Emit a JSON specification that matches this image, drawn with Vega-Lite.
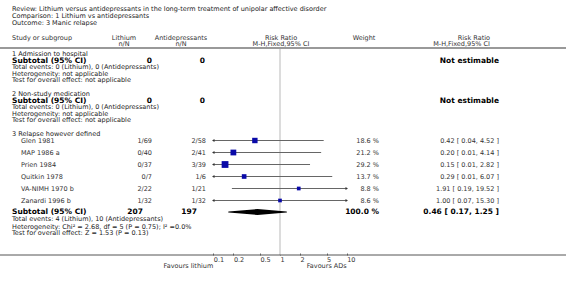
{
  "$schema": "https://vega.github.io/schema/vega-lite/v6.json",
  "width": 566,
  "height": 285,
  "padding": 0,
  "autosize": {"type": "none"},
  "background": "white",
  "config": {
    "view": {"stroke": null},
    "text": {"font": "DejaVu Sans", "fontSize": 6.5, "baseline": "middle", "color": "#222"}
  },
  "datasets": {
    "studies": [
      {"study": "Glen 1981", "lit": "1/69", "ad": "2/58", "rr": 0.42, "lo": 0.04, "hi": 4.52, "weight": 18.6, "wt": "18.6 %", "ci": "0.42 [ 0.04, 4.52 ]", "line": 28.1},
      {"study": "MAP 1986 a", "lit": "0/40", "ad": "2/41", "rr": 0.20, "lo": 0.01, "hi": 4.14, "weight": 21.2, "wt": "21.2 %", "ci": "0.20 [ 0.01, 4.14 ]", "line": 30.5},
      {"study": "Prien 1984", "lit": "0/37", "ad": "3/39", "rr": 0.15, "lo": 0.01, "hi": 2.82, "weight": 29.2, "wt": "29.2 %", "ci": "0.15 [ 0.01, 2.82 ]", "line": 32.9},
      {"study": "Quitkin 1978", "lit": "0/7", "ad": "1/6", "rr": 0.29, "lo": 0.01, "hi": 6.07, "weight": 13.7, "wt": "13.7 %", "ci": "0.29 [ 0.01, 6.07 ]", "line": 35.3},
      {"study": "VA-NIMH 1970 b", "lit": "2/22", "ad": "1/21", "rr": 1.91, "lo": 0.19, "hi": 19.52, "weight": 8.8, "wt": "8.8 %", "ci": "1.91 [ 0.19, 19.52 ]", "line": 37.7},
      {"study": "Zanardi 1996 b", "lit": "1/32", "ad": "1/32", "rr": 1.00, "lo": 0.07, "hi": 15.30, "weight": 8.6, "wt": "8.6 %", "ci": "1.00 [ 0.07, 15.30 ]", "line": 40.1}
    ],
    "subtotals": [
      {"label": "Subtotal (95% CI)", "lit": "0", "ad": "0", "wt": "", "ci": "Not estimable", "est": "no", "line": 12.1},
      {"label": "Subtotal (95% CI)", "lit": "0", "ad": "0", "wt": "", "ci": "Not estimable", "est": "no", "line": 20.2},
      {"label": "Subtotal (95% CI)", "lit": "207", "ad": "197", "wt": "100.0 %", "ci": "0.46 [ 0.17, 1.25 ]", "est": "yes", "rr": 0.46, "lo": 0.17, "hi": 1.25, "line": 42.4}
    ],
    "notes": [
      {"text": "Review:  Lithium versus antidepressants in the long-term treatment of unipolar affective disorder", "line": 1.8},
      {"text": "Comparison:  1 Lithium vs antidepressants", "line": 3.2},
      {"text": "Outcome:  3 Manic relapse", "line": 4.6},
      {"text": "1 Admission to hospital", "line": 10.8},
      {"text": "Total events: 0 (Lithium), 0 (Antidepressants)", "line": 13.4},
      {"text": "Heterogeneity: not applicable", "line": 14.7},
      {"text": "Test for overall effect: not applicable", "line": 16.0},
      {"text": "2 Non-study medication", "line": 18.8},
      {"text": "Total events: 0 (Lithium), 0 (Antidepressants)", "line": 21.4},
      {"text": "Heterogeneity: not applicable", "line": 22.7},
      {"text": "Test for overall effect: not applicable", "line": 24.0},
      {"text": "3 Relapse however defined", "line": 26.8},
      {"text": "Total events: 4 (Lithium), 10 (Antidepressants)", "line": 43.8},
      {"text": "Heterogeneity: Chi² = 2.68, df = 5 (P = 0.75); I² =0.0%", "line": 45.3},
      {"text": "Test for overall effect: Z = 1.53 (P = 0.13)", "line": 46.6}
    ],
    "headers": [
      {"text": "Study or subgroup", "col": "study", "line": 7.6},
      {"text": "Lithium", "col": "lit", "line": 7.6},
      {"text": "n/N", "col": "lit", "line": 8.8},
      {"text": "Antidepressants", "col": "ad", "line": 7.6},
      {"text": "n/N", "col": "ad", "line": 8.8},
      {"text": "Risk Ratio", "col": "rr", "line": 7.6},
      {"text": "M-H,Fixed,95% CI", "col": "rr", "line": 8.8},
      {"text": "Weight", "col": "wt", "line": 7.6},
      {"text": "Risk Ratio", "col": "ci", "line": 7.6},
      {"text": "M-H,Fixed,95% CI", "col": "ci", "line": 8.8}
    ],
    "favours": [
      {"text": "Favours lithium", "at": 0.1, "line": 53.1},
      {"text": "Favours ADs", "at": 10, "line": 53.1}
    ],
    "frame": [
      {"what": "header", "line": 9.6, "bottom": 51}
    ]
  },
  "layer": [
    {
      "data": {"name": "frame"},
      "mark": {"type": "rule", "color": "#dcdcdc", "strokeWidth": 2},
      "encoding": {
        "x": {"datum": 1, "type": "quantitative",
          "scale": {"type": "log", "domain": [0.1, 10], "range": [213.3, 346.7], "clamp": true, "nice": false},
          "axis": {"values": [0.1, 0.2, 0.5, 1, 2, 5, 10], "format": "~g", "title": null, "domain": false, "grid": false,
            "offset": -30, "ticks": true, "tickSize": -2, "tickColor": "#666", "labelFontSize": 6.5, "labelFont": "DejaVu Sans",
            "labelColor": "#333", "labelPadding": 3, "labelAlign": "left", "labelFlush": false, "labelOverlap": false, "orient": "bottom"}},
        "y": {"field": "line", "type": "quantitative", "scale": {"domain": [0, 57], "reverse": true, "zero": false, "nice": false}, "axis": null},
        "y2": {"field": "bottom"}
      }
    },
    {
      "data": {"name": "frame"},
      "mark": {"type": "rule", "color": "#999", "strokeWidth": 2},
      "encoding": {
        "y": {"field": "line", "type": "quantitative"}
      }
    },
    {
      "data": {"name": "frame"},
      "mark": {"type": "rule", "color": "#555", "strokeWidth": 1},
      "encoding": {
        "y": {"field": "bottom", "type": "quantitative"}
      }
    },
    {
      "data": {"name": "studies"},
      "mark": {"type": "rule", "color": "#666", "strokeWidth": 1},
      "encoding": {
        "x": {"field": "lo", "type": "quantitative"},
        "x2": {"field": "hi"},
        "y": {"field": "line", "type": "quantitative"}
      }
    },
    {
      "data": {"name": "studies"},
      "transform": [{"filter": "datum.lo < 0.1"}],
      "mark": {"type": "point", "shape": "triangle-left", "filled": true, "color": "#333", "size": 8, "opacity": 1},
      "encoding": {
        "x": {"field": "lo", "type": "quantitative"},
        "y": {"field": "line", "type": "quantitative"}
      }
    },
    {
      "data": {"name": "studies"},
      "transform": [{"filter": "datum.hi > 10"}],
      "mark": {"type": "point", "shape": "triangle-right", "filled": true, "color": "#333", "size": 8, "opacity": 1},
      "encoding": {
        "x": {"field": "hi", "type": "quantitative"},
        "y": {"field": "line", "type": "quantitative"}
      }
    },
    {
      "data": {"name": "studies"},
      "mark": {"type": "point", "shape": "square", "filled": true, "color": "#0a0aa8", "opacity": 1},
      "encoding": {
        "x": {"field": "rr", "type": "quantitative"},
        "y": {"field": "line", "type": "quantitative"},
        "size": {"field": "weight", "type": "quantitative", "scale": {"domain": [0, 29.2], "range": [0, 46]}, "legend": null}
      }
    },
    {
      "data": {"name": "subtotals"},
      "transform": [{"filter": "datum.est === 'yes'"}, {"fold": ["lo", "rr", "hi"], "as": ["key", "value"]}],
      "mark": {"type": "trail", "color": "#000"},
      "encoding": {
        "x": {"field": "value", "type": "quantitative"},
        "y": {"field": "line", "type": "quantitative"},
        "size": {"condition": {"test": "datum.key === 'rr'", "value": 6}, "value": 0}
      }
    },
    {
      "data": {"name": "notes"},
      "mark": {"type": "text", "align": "left"},
      "encoding": {"x": {"value": 12}, "y": {"field": "line", "type": "quantitative"}, "text": {"field": "text"}}
    },
    {
      "data": {"name": "headers"},
      "transform": [{"filter": "datum.col === 'study'"}],
      "mark": {"type": "text", "align": "left", "color": "#333"},
      "encoding": {"x": {"value": 12}, "y": {"field": "line", "type": "quantitative"}, "text": {"field": "text"}}
    },
    {
      "data": {"name": "headers"},
      "transform": [{"filter": "datum.col === 'lit'"}],
      "mark": {"type": "text", "align": "center", "color": "#333"},
      "encoding": {"x": {"value": 124}, "y": {"field": "line", "type": "quantitative"}, "text": {"field": "text"}}
    },
    {
      "data": {"name": "headers"},
      "transform": [{"filter": "datum.col === 'ad'"}],
      "mark": {"type": "text", "align": "center", "color": "#333"},
      "encoding": {"x": {"value": 181}, "y": {"field": "line", "type": "quantitative"}, "text": {"field": "text"}}
    },
    {
      "data": {"name": "headers"},
      "transform": [{"filter": "datum.col === 'rr'"}],
      "mark": {"type": "text", "align": "center", "color": "#333"},
      "encoding": {"x": {"value": 281}, "y": {"field": "line", "type": "quantitative"}, "text": {"field": "text"}}
    },
    {
      "data": {"name": "headers"},
      "transform": [{"filter": "datum.col === 'wt'"}],
      "mark": {"type": "text", "align": "center", "color": "#333"},
      "encoding": {"x": {"value": 364}, "y": {"field": "line", "type": "quantitative"}, "text": {"field": "text"}}
    },
    {
      "data": {"name": "headers"},
      "transform": [{"filter": "datum.col === 'ci'"}],
      "mark": {"type": "text", "align": "right", "color": "#333"},
      "encoding": {"x": {"value": 490}, "y": {"field": "line", "type": "quantitative"}, "text": {"field": "text"}}
    },
    {
      "data": {"name": "studies"},
      "mark": {"type": "text", "align": "left", "color": "#333"},
      "encoding": {"x": {"value": 21}, "y": {"field": "line", "type": "quantitative"}, "text": {"field": "study"}}
    },
    {
      "data": {"name": "studies"},
      "mark": {"type": "text", "align": "right", "color": "#333"},
      "encoding": {"x": {"value": 152}, "y": {"field": "line", "type": "quantitative"}, "text": {"field": "lit"}}
    },
    {
      "data": {"name": "studies"},
      "mark": {"type": "text", "align": "right", "color": "#333"},
      "encoding": {"x": {"value": 206}, "y": {"field": "line", "type": "quantitative"}, "text": {"field": "ad"}}
    },
    {
      "data": {"name": "studies"},
      "mark": {"type": "text", "align": "right", "color": "#333"},
      "encoding": {"x": {"value": 379}, "y": {"field": "line", "type": "quantitative"}, "text": {"field": "wt"}}
    },
    {
      "data": {"name": "studies"},
      "mark": {"type": "text", "align": "right", "color": "#333"},
      "encoding": {"x": {"value": 499}, "y": {"field": "line", "type": "quantitative"}, "text": {"field": "ci"}}
    },
    {
      "data": {"name": "subtotals"},
      "mark": {"type": "text", "align": "left", "fontWeight": "bold", "fontSize": 7.5, "color": "#000"},
      "encoding": {"x": {"value": 12}, "y": {"field": "line", "type": "quantitative"}, "text": {"field": "label"}}
    },
    {
      "data": {"name": "subtotals"},
      "transform": [{"filter": "datum.est === 'no'"}],
      "mark": {"type": "text", "align": "right", "fontWeight": "bold", "fontSize": 7.5, "color": "#000"},
      "encoding": {"x": {"value": 152}, "y": {"field": "line", "type": "quantitative"}, "text": {"field": "lit"}}
    },
    {
      "data": {"name": "subtotals"},
      "transform": [{"filter": "datum.est === 'no'"}],
      "mark": {"type": "text", "align": "right", "fontWeight": "bold", "fontSize": 7.5, "color": "#000"},
      "encoding": {"x": {"value": 205}, "y": {"field": "line", "type": "quantitative"}, "text": {"field": "ad"}}
    },
    {
      "data": {"name": "subtotals"},
      "transform": [{"filter": "datum.est === 'yes'"}],
      "mark": {"type": "text", "align": "right", "fontWeight": "bold", "fontSize": 7.5, "color": "#000"},
      "encoding": {"x": {"value": 143}, "y": {"field": "line", "type": "quantitative"}, "text": {"field": "lit"}}
    },
    {
      "data": {"name": "subtotals"},
      "transform": [{"filter": "datum.est === 'yes'"}],
      "mark": {"type": "text", "align": "right", "fontWeight": "bold", "fontSize": 7.5, "color": "#000"},
      "encoding": {"x": {"value": 197}, "y": {"field": "line", "type": "quantitative"}, "text": {"field": "ad"}}
    },
    {
      "data": {"name": "subtotals"},
      "mark": {"type": "text", "align": "right", "fontWeight": "bold", "fontSize": 7.5, "color": "#000"},
      "encoding": {"x": {"value": 379}, "y": {"field": "line", "type": "quantitative"}, "text": {"field": "wt"}}
    },
    {
      "data": {"name": "subtotals"},
      "mark": {"type": "text", "align": "right", "fontWeight": "bold", "fontSize": 7.5, "color": "#000"},
      "encoding": {"x": {"value": 499}, "y": {"field": "line", "type": "quantitative"}, "text": {"field": "ci"}}
    },
    {
      "data": {"name": "favours"},
      "mark": {"type": "text", "align": "right", "color": "#333"},
      "encoding": {"x": {"field": "at", "type": "quantitative"}, "y": {"field": "line", "type": "quantitative"}, "text": {"field": "text"}}
    }
  ]
}
